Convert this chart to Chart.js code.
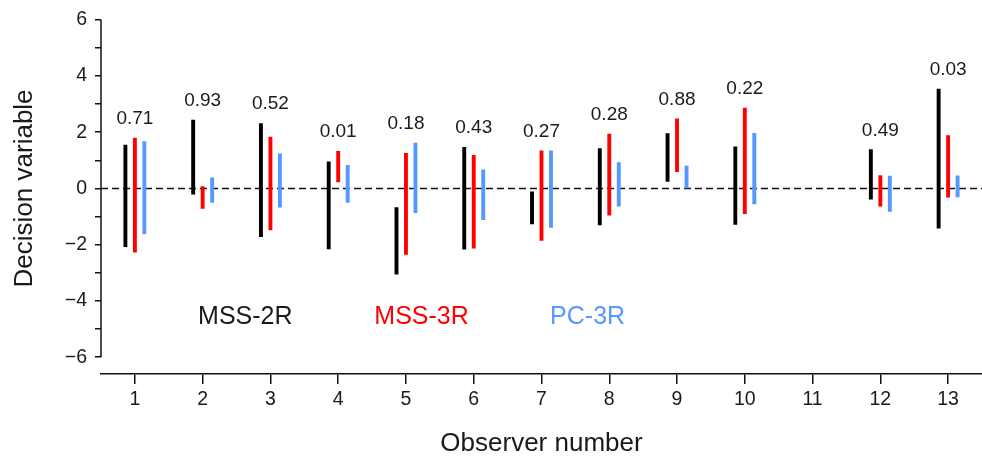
<!DOCTYPE html>
<html>
<head>
<meta charset="utf-8">
<script src="https://cdn.jsdelivr.net/npm/chart.js@4.4.1/dist/chart.umd.min.js"></script>
<style>
  body { margin: 0; background: #fff; }
  #wrap { width: 982px; height: 462px; position: relative; }
</style>
</head>
<body>
<div id="wrap"><canvas id="dvChart"></canvas></div>
<script>
// observers on the x axis
var observers = ['1', '2', '3', '4', '5', '6', '7', '8', '9', '10', '11', '12', '13'];

// decision variable ranges, low and high end of each bar (null = no data)
var mss2rLow  = [-2.08, -0.22, -1.73, -2.16, -3.06, -2.17, -1.27, -1.31, 0.24, -1.29, null, -0.39, -1.43];
var mss2rHigh = [ 1.55,  2.44,  2.32,  0.96, -0.67,  1.47, -0.11,  1.43, 1.96,  1.49, null,  1.39,  3.54];

var mss3rLow  = [-2.28, -0.72, -1.49, 0.22, -2.36, -2.14, -1.86, -0.96, 0.58, -0.91, null, -0.64, -0.32];
var mss3rHigh = [ 1.80,  0.08,  1.84, 1.33,  1.26,  1.19,  1.35,  1.94, 2.49,  2.87, null,  0.47,  1.89];

var pc3rLow   = [-1.62, -0.51, -0.68, -0.51, -0.87, -1.12, -1.40, -0.64, 0.01, -0.56, null, -0.83, -0.31];
var pc3rHigh  = [ 1.68,  0.39,  1.24,  0.83,  1.62,  0.67,  1.35,  0.93, 0.81,  1.97, null,  0.45,  0.46];

// p values printed over each observer
var pValues = ['0.71', '0.93', '0.52', '0.01', '0.18', '0.43', '0.27', '0.28', '0.88', '0.22', null, '0.49', '0.03'];

// y ticks
var yTickValues = [-6, -5, -4, -3, -2, -1, 0, 1, 2, 3, 4, 5, 6];

var FONT = '"Liberation Sans", Arial, Helvetica, sans-serif';
var BLACK = '#000000';
var RED = '#ff0000';
var BLUE = '#5598ff';

function pairs(lo, hi) {
    return lo.map(function (v, i) {
        return v === null ? null : [v, hi[i]];
    });
}

// dashed zero line, y axis line, y title
var decorPlugin = {
    id: 'decor',
    beforeDatasetsDraw: function (chart) {
        var c = chart.ctx, a = chart.chartArea, y = chart.scales.y;
        var y0 = y.getPixelForValue(0);
        c.save();
        c.strokeStyle = '#111';
        c.lineWidth = 1.5;
        c.setLineDash([7, 4]);
        c.beginPath();
        c.moveTo(a.left, y0);
        c.lineTo(a.right, y0);
        c.stroke();
        c.setLineDash([]);
        // y axis line only spans -6..6
        c.beginPath();
        c.moveTo(a.left, y.getPixelForValue(6));
        c.lineTo(a.left, y.getPixelForValue(-6));
        c.stroke();
        // y title
        c.fillStyle = '#1a1a1a';
        c.font = '26px ' + FONT;
        c.textAlign = 'center';
        c.textBaseline = 'alphabetic';
        c.translate(32, (y.getPixelForValue(6) + y.getPixelForValue(-6)) / 2);
        c.rotate(-Math.PI / 2);
        c.fillText('Decision variable', 0, 0);
        c.restore();
    },
    afterDatasetsDraw: function (chart) {
        var c = chart.ctx, x = chart.scales.x, y = chart.scales.y;
        c.save();
        c.fillStyle = '#1a1a1a';
        c.font = '19px ' + FONT;
        c.textAlign = 'center';
        c.textBaseline = 'middle';
        pValues.forEach(function (p, i) {
            if (p === null) return;
            var top = Math.max(mss2rHigh[i], mss3rHigh[i], pc3rHigh[i]);
            c.fillText(p, x.getPixelForValue(i), y.getPixelForValue(top) - 19);
        });
        // in-plot legend
        c.font = '25px ' + FONT;
        var ly = y.getPixelForValue(-4.57);
        c.fillStyle = '#1a1a1a';
        c.fillText('MSS-2R', x.getPixelForValue(1.63), ly);
        c.fillStyle = RED;
        c.fillText('MSS-3R', x.getPixelForValue(4.23), ly);
        c.fillStyle = BLUE;
        c.fillText('PC-3R', x.getPixelForValue(6.68), ly);
        c.restore();
    }
};

var ctx = document.getElementById('dvChart').getContext('2d');

var dvChart = new Chart(ctx, {
    type: 'bar',
    data: {
        labels: observers,
        datasets: [
            { label: 'MSS-2R', data: pairs(mss2rLow, mss2rHigh), backgroundColor: BLACK },
            { label: 'MSS-3R', data: pairs(mss3rLow, mss3rHigh), backgroundColor: RED },
            { label: 'PC-3R',  data: pairs(pc3rLow, pc3rHigh),   backgroundColor: BLUE }
        ]
    },
    options: {
        responsive: true,
        maintainAspectRatio: false,
        animation: false,
        categoryPercentage: 0.42,
        barPercentage: 0.41,
        borderWidth: 0,
        borderSkipped: false,
        layout: { padding: { top: 18, right: 0, left: 0, bottom: 0 } },
        plugins: {
            legend: { display: false },
            tooltip: { enabled: false }
        },
        scales: {
            x: {
                type: 'category',
                offset: true,
                grid: {
                    offset: false,
                    drawOnChartArea: false,
                    drawTicks: true,
                    tickLength: 10,
                    color: '#111',
                    lineWidth: 1.5
                },
                border: { display: true, color: '#111', width: 1.5 },
                ticks: {
                    color: '#1a1a1a',
                    font: { family: FONT, size: 19.5 },
                    padding: 4,
                    maxRotation: 0,
                    autoSkip: false
                },
                title: {
                    display: true,
                    text: 'Observer number',
                    color: '#1a1a1a',
                    font: { family: FONT, size: 26 },
                    padding: { top: 4, bottom: 3 }
                },
                afterFit: function (s) { s.height = 88; }
            },
            y: {
                min: -6.6,
                max: 6,
                afterBuildTicks: function (s) {
                    s.ticks = yTickValues.map(function (v) { return { value: v }; });
                },
                grid: {
                    drawOnChartArea: false,
                    drawTicks: true,
                    tickLength: 6,
                    color: '#111',
                    lineWidth: 1.5
                },
                border: { display: false },
                ticks: {
                    autoSkip: false,
                    color: '#1a1a1a',
                    font: { family: FONT, size: 19.5 },
                    padding: 8,
                    callback: function (v) {
                        if (v % 2 !== 0) return '';
                        return v < 0 ? '\u2212' + Math.abs(v) : String(v);
                    }
                },
                afterFit: function (s) { s.width = 101; }
            }
        }
    },
    plugins: [decorPlugin]
});
</script>
</body>
</html>
